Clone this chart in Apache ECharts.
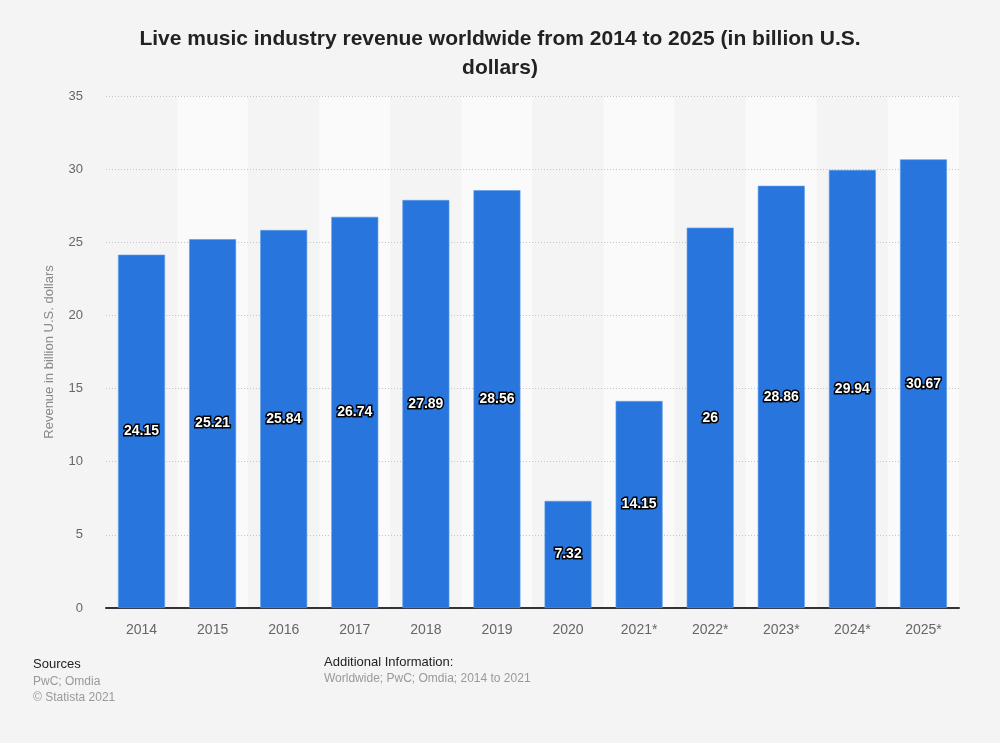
<!DOCTYPE html>
<html>
<head>
<meta charset="utf-8">
<script src="https://cdn.jsdelivr.net/npm/echarts@6/dist/echarts.min.js"></script>
<style>
  html, body { margin: 0; padding: 0; background: #f4f4f4; }
  #chart { width: 1000px; height: 743px; }
</style>
</head>
<body>
<div id="chart"></div>
<script>
var years = ['2014', '2015', '2016', '2017', '2018', '2019', '2020', '2021*', '2022*', '2023*', '2024*', '2025*'];
var revenue = [24.15, 25.21, 25.84, 26.74, 27.89, 28.56, 7.32, 14.15, 26, 28.86, 29.94, 30.67];
var yTicks = [0, 5, 10, 15, 20, 25, 30, 35];

var font = '"Liberation Sans", Arial, sans-serif';
var chart = echarts.init(document.getElementById('chart'));

chart.setOption({
  backgroundColor: '#f4f4f4',
  animation: false,
  title: {
    text: 'Live music industry revenue worldwide from 2014 to 2025 (in billion U.S.\ndollars)',
    left: 'center',
    top: 20,
    textStyle: {
      color: '#222',
      fontFamily: font,
      fontSize: 21,
      fontWeight: 'bold',
      lineHeight: 29
    }
  },
  grid: {
    left: 106,
    right: 41,
    top: 96,
    bottom: 135
  },
  xAxis: [{
    // bands + labels
    type: 'category',
    data: years,
    z: 0,
    axisLine: { show: false },
    axisTick: { show: false },
    axisLabel: {
      color: '#666',
      fontFamily: font,
      fontSize: 14,
      margin: 15
    },
    splitArea: {
      show: true,
      areaStyle: { color: ['#f4f4f4', '#fafafa'] }
    }
  }, {
    // solid base line drawn above the dotted grid
    type: 'category',
    data: years,
    position: 'bottom',
    z: 2,
    axisLine: { lineStyle: { color: '#333', width: 2 } },
    axisTick: { show: false },
    axisLabel: { show: false },
    splitLine: { show: false }
  }],
  yAxis: {
    type: 'value',
    z: 1,
    min: yTicks[0],
    max: yTicks[yTicks.length - 1],
    interval: 5,
    name: 'Revenue in billion U.S. dollars',
    nameLocation: 'middle',
    nameGap: 50,
    nameTextStyle: {
      color: '#888',
      fontFamily: font,
      fontSize: 13
    },
    axisLine: { show: false },
    axisTick: { show: false },
    axisLabel: {
      color: '#666',
      fontFamily: font,
      fontSize: 13,
      margin: 23
    },
    splitLine: {
      lineStyle: { color: '#c4c4c4', type: [1, 2], width: 1 }
    }
  },
  series: [{
    type: 'bar',
    xAxisIndex: 0,
    data: revenue,
    barWidth: '66%',
    z: 3,
    itemStyle: {
      color: '#2876dd',
      borderColor: '#5b9be8',
      borderWidth: 0.6
    },
    label: {
      show: true,
      position: 'inside',
      color: '#fff',
      fontFamily: font,
      fontSize: 14,
      fontWeight: 'bold',
      textBorderColor: '#000',
      textBorderWidth: 3
    }
  }],
  graphic: [
    { type: 'text', left: 33, top: 658, style: { text: 'Sources', fill: '#222', font: '13px ' + font } },
    { type: 'text', left: 33, top: 676, style: { text: 'PwC; Omdia', fill: '#999', font: '12px ' + font } },
    { type: 'text', left: 33, top: 692, style: { text: '\u00a9 Statista 2021', fill: '#999', font: '12px ' + font } },
    { type: 'text', left: 324, top: 656, style: { text: 'Additional Information:', fill: '#222', font: '13px ' + font } },
    { type: 'text', left: 324, top: 673, style: { text: 'Worldwide; PwC; Omdia; 2014 to 2021', fill: '#999', font: '12px ' + font } }
  ]
});
</script>
</body>
</html>
